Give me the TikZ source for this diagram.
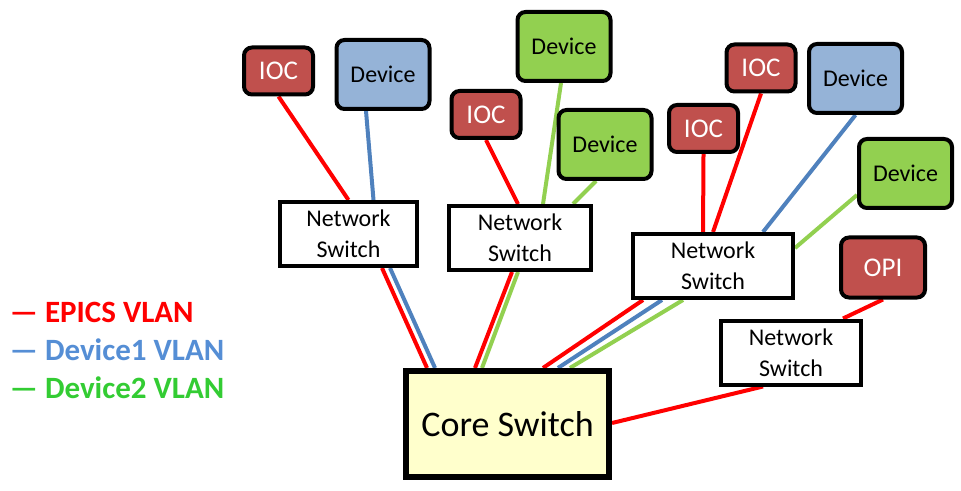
\documentclass[tikz,border=0pt]{standalone}
\usepackage{fontspec}
\setmainfont{Carlito}
\usetikzlibrary{backgrounds}

\definecolor{iocred}{HTML}{C0504D}
\definecolor{devblue}{HTML}{95B3D7}
\definecolor{devgreen}{HTML}{92D050}
\definecolor{corefill}{HTML}{FFFFCC}
\definecolor{linered}{HTML}{FF0000}
\definecolor{lineblue}{HTML}{4F81BD}
\definecolor{linegreen}{HTML}{92D050}
\definecolor{legblue}{HTML}{558ED5}
\definecolor{leggreen}{HTML}{33CC33}

\begin{document}
\begin{tikzpicture}[x=0.5pt, y=-0.5pt, line width=2pt,
    box/.style={draw, rounded corners=4pt, inner sep=0pt, font=\fontsize{12}{14}\selectfont},
    ioc/.style={box, fill=iocred, text=white, minimum width=34.5pt, minimum height=23.5pt,
      font=\fontsize{13.5}{15}\selectfont},
    device/.style={box, minimum width=46.5pt, minimum height=34.5pt},
    netsw/.style={draw, fill=white, inner sep=0pt, align=center, minimum height=32pt,
      font=\fontsize{12}{15.5}\selectfont},
    epics/.style={draw=linered, line width=2pt},
    vlan1/.style={draw=lineblue, line width=2pt},
    vlan2/.style={draw=linegreen, line width=2pt},
    legend/.style={anchor=west, inner sep=0pt, font=\fontsize{15.5}{17}\selectfont\bfseries}]
  \useasboundingbox (0,0) rectangle (961,491);

  % end nodes
  \node[ioc] (ioc1) at (278.5,71) {IOC};
  \node[device, fill=devblue] (dev1) at (383,74.5) {Device};
  \node[ioc] (ioc2) at (486,114.5) {IOC};
  \node[device, fill=devgreen] (dev2) at (564,46.5) {Device};
  \node[device, fill=devgreen] (dev3) at (605,144.5) {Device};
  \node[ioc] (ioc3) at (761,68) {IOC};
  \node[ioc] (ioc4) at (703.5,128.5) {IOC};
  \node[device, fill=devblue] (dev4) at (855.5,78.5) {Device};
  \node[device, fill=devgreen] (dev5) at (905.5,173.5) {Device};
  \node[ioc, minimum width=42pt, minimum height=30pt] (opi) at (883,267.5) {OPI};

  % switches
  \node[netsw, minimum width=68.5pt] (sw1) at (348.5,234) {Network\\Switch};
  \node[netsw, minimum width=71pt] (sw2) at (520,238) {Network\\Switch};
  \node[netsw, minimum width=80pt] (sw3) at (713,266) {Network\\Switch};
  \node[netsw, minimum width=70pt] (sw4) at (791,352.5) {Network\\Switch};
  \node[draw, fill=corefill, line width=2.8pt, inner sep=0pt, minimum width=101.75pt,
    minimum height=53.25pt, font=\fontsize{18}{20}\selectfont] (core) at (507.5,424) {Core Switch};

  % cables
  \begin{scope}[on background layer]
    \draw[epics] (ioc1.south) -- (sw1.north);
    \draw[vlan1] ([shift={(-17,0)}]dev1.south) -- ([shift={(25,0)}]sw1.north);
    \draw[epics] (ioc2.south) -- ([shift={(-2,0)}]sw2.north);
    \draw[vlan2] ([shift={(-3,0)}]dev2.south) -- ([shift={(23,0)}]sw2.north);
    \draw[vlan2] ([shift={(-9,0)}]dev3.south) -- ([shift={(53,0)}]sw2.north);
    \draw[epics] (ioc4.south) -- ([shift={(-10,0)}]sw3.north);
    \draw[epics] (ioc3.south) -- (sw3.north);
    \draw[vlan1] (dev4.south) -- ([shift={(50,0)}]sw3.north);
    \draw[vlan2] ([shift={(0,21.5)}]dev5.west) -- ([shift={(0,-18)}]sw3.east);
    \draw[epics] (opi.south) -- ([shift={(52,0)}]sw4.north);
    \draw[epics] ([shift={(-28,0)}]sw4.south) -- ([shift={(0,-1)}]core.east);
    \draw[epics] ([shift={(33.5,0)}]sw1.south) -- ([shift={(-80.5,0)}]core.north);
    \draw[vlan1] ([shift={(41.5,0)}]sw1.south) -- ([shift={(-72.5,0)}]core.north);
    \draw[epics] ([shift={(-8,0)}]sw2.south) -- ([shift={(-32.5,0)}]core.north);
    \draw[vlan2] ([shift={(-2,0)}]sw2.south) -- ([shift={(-25.5,0)}]core.north);
    \draw[epics] ([shift={(-70,0)}]sw3.south) -- ([shift={(35.5,0)}]core.north);
    \draw[vlan1] ([shift={(-51,0)}]sw3.south) -- ([shift={(50.5,0)}]core.north);
    \draw[vlan2] ([shift={(-30,0)}]sw3.south) -- ([shift={(62.5,0)}]core.north);
  \end{scope}

  % legend
  \node[legend, text=linered] (legepics) at (8,312) {— EPICS VLAN};
  \node[legend, text=legblue] (legdev1) at (8,350) {— Device1 VLAN};
  \node[legend, text=leggreen] (legdev2) at (8,388) {— Device2 VLAN};
\end{tikzpicture}
\end{document}
